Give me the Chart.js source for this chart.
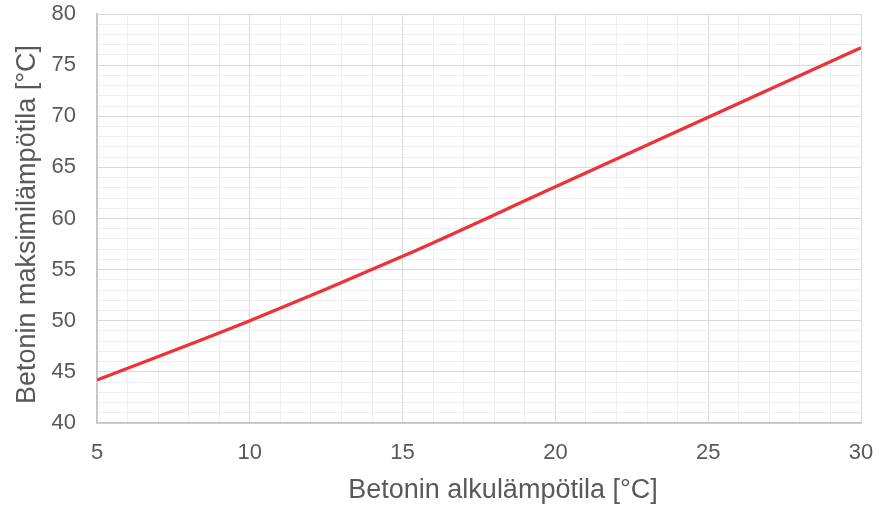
<!DOCTYPE html>
<html>
<head>
<meta charset="utf-8">
<script src="https://cdn.jsdelivr.net/npm/chart.js@4/dist/chart.umd.min.js"></script>
<style>
  html, body { margin: 0; padding: 0; background: #ffffff; }
  #wrap { width: 879px; height: 508px; position: relative; }
</style>
</head>
<body>
<div id="wrap"><canvas id="c" width="879" height="508"></canvas></div>
<script>
// Initial concrete temperature [°C]
const initialTemps = [5, 10, 15, 20, 25, 30];
// Maximum concrete temperature [°C]
const maxTemps = [44.2, 50.0, 56.3, 63.1, 69.9, 76.7];

const xTitle = 'Betonin alkulämpötila [°C]';
const yTitle = 'Betonin maksimilämpötila [°C]';

const xRange = [5, 30];
const yRange = [40, 80];
const labelStep = 5;

const points = initialTemps.map((x, i) => ({ x: x, y: maxTemps[i] }));

const textColor = '#595959';
const majorGrid = '#d9d9d9';
const minorGrid = '#efefef';
const axisLine = '#c4c4c4';
const fontFamily = '"Liberation Sans", Arial, sans-serif';

function gridColor(ctx) {
  return (ctx.tick && ctx.tick.value % labelStep === 0) ? majorGrid : minorGrid;
}
function tickLabel(v) {
  return v % labelStep === 0 ? String(v) : '';
}

// Axis titles, centred on the chart body rather than strictly on the plot area
const axisTitles = {
  id: 'axisTitles',
  afterDraw(chart) {
    const { ctx, chartArea } = chart;
    ctx.save();
    ctx.font = '27px ' + fontFamily;
    ctx.fillStyle = textColor;
    ctx.textAlign = 'center';
    ctx.textBaseline = 'middle';
    ctx.fillText(xTitle, (chartArea.left + chartArea.right) / 2 + 24, chart.height - 17);
    ctx.translate(28, (chartArea.top + chartArea.bottom) / 2 + 6);
    ctx.rotate(-Math.PI / 2);
    ctx.fillText(yTitle, 0, 0);
    ctx.restore();
  }
};

new Chart(document.getElementById('c'), {
  type: 'line',
  data: {
    datasets: [{
      data: points,
      borderColor: '#ee3338',
      borderWidth: 3.3,
      pointRadius: 0,
      fill: false,
      cubicInterpolationMode: 'monotone'
    }]
  },
  plugins: [axisTitles],
  options: {
    responsive: false,
    animation: false,
    layout: { padding: { left: 0, top: 14, right: 18, bottom: 0 } },
    plugins: { legend: { display: false }, tooltip: { enabled: false } },
    scales: {
      x: {
        type: 'linear',
        min: xRange[0],
        max: xRange[1],
        afterFit: (s) => { s.height = 85; s.paddingLeft = 0; s.paddingRight = 0; },
        grid: { color: gridColor, drawTicks: false, lineWidth: 1 },
        border: { color: axisLine, width: 1.5 },
        ticks: {
          stepSize: 1,
          autoSkip: false,
          maxRotation: 0,
          padding: 17,
          color: textColor,
          font: { family: fontFamily, size: 22 },
          callback: tickLabel
        }
      },
      y: {
        type: 'linear',
        min: yRange[0],
        max: yRange[1],
        afterFit: (s) => { s.width = 97; s.paddingTop = 0; s.paddingBottom = 0; },
        grid: { color: gridColor, drawTicks: false, lineWidth: 1 },
        border: { color: axisLine, width: 1.5 },
        ticks: {
          stepSize: 1,
          autoSkip: false,
          padding: 21,
          color: textColor,
          font: { family: fontFamily, size: 22 },
          callback: tickLabel
        }
      }
    }
  }
});
</script>
</body>
</html>
